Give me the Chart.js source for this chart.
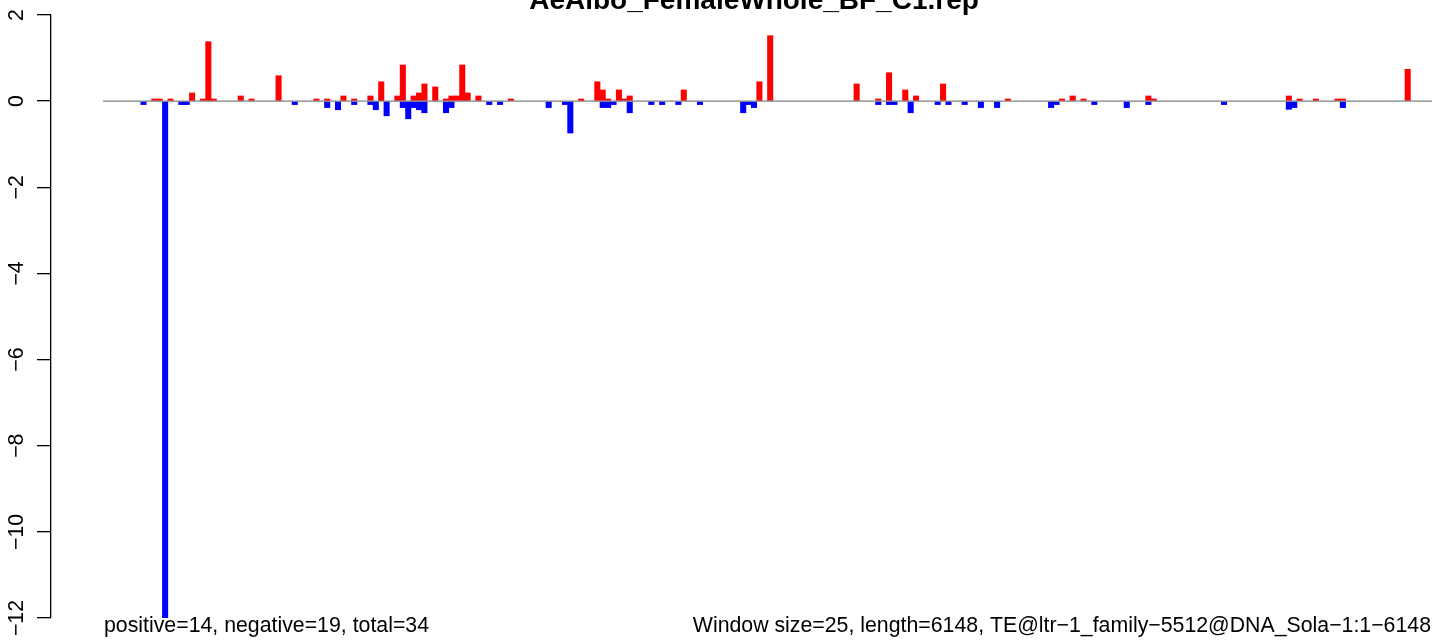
<!DOCTYPE html>
<html>
<head>
<meta charset="utf-8">
<script src="https://cdn.jsdelivr.net/npm/chart.js@4.4.1/dist/chart.umd.min.js"></script>
<style>
  html, body { margin: 0; padding: 0; background: #fff; }
  canvas { display: block; }
</style>
</head>
<body>
<canvas id="repChart" width="1444" height="641"></canvas>
<script>
// 25 bp windows along the 6148 bp element
var nWin = 246;

var posWin = [9, 10, 12, 16, 18, 19, 20, 25, 27, 32, 39, 41, 44, 46, 49, 51, 54, 55, 57, 58, 59,
              61, 63, 64, 65, 66, 67, 69, 75, 88, 91, 92, 93, 95, 96, 97, 107, 121, 123,
              139, 143, 145, 148, 150, 155, 167, 177, 179, 181, 193, 194, 219, 221, 224, 228, 229, 241];
var posVal = [0.05, 0.05, 0.05, 0.19, 0.05, 1.38, 0.05, 0.12, 0.05, 0.59, 0.05, 0.05, 0.12, 0.05, 0.12, 0.45, 0.12, 0.84, 0.12, 0.19, 0.40,
              0.33, 0.05, 0.12, 0.12, 0.84, 0.19, 0.12, 0.05, 0.05, 0.45, 0.26, 0.05, 0.26, 0.05, 0.12, 0.26, 0.45, 1.52,
              0.40, 0.05, 0.66, 0.26, 0.12, 0.40, 0.05, 0.05, 0.12, 0.05, 0.12, 0.05, 0.12, 0.05, 0.05, 0.05, 0.05, 0.74];

var negWin = [7, 11, 14, 15, 35, 41, 43, 46, 49, 50, 52, 55, 56, 57, 58, 59, 63, 64, 71, 73,
              82, 85, 86, 92, 93, 94, 97, 101, 103, 106, 110, 118, 119, 120,
              143, 145, 146, 149, 154, 156, 159, 162, 165, 175, 176, 183, 189, 193, 207, 219, 220, 229];
var negVal = [-0.08, -12, -0.08, -0.08, -0.08, -0.15, -0.20, -0.08, -0.08, -0.20, -0.34, -0.15, -0.41, -0.15, -0.20, -0.27, -0.27, -0.15, -0.08, -0.08,
              -0.15, -0.08, -0.74, -0.15, -0.15, -0.08, -0.27, -0.08, -0.08, -0.08, -0.08, -0.27, -0.08, -0.15,
              -0.08, -0.08, -0.08, -0.27, -0.08, -0.08, -0.08, -0.15, -0.15, -0.15, -0.08, -0.08, -0.15, -0.08, -0.08, -0.19, -0.15, -0.15];

var yTicks = [2, 0, -2, -4, -6, -8, -10, -12];

var titleText = "AeAlbo_FemaleWhole_BF_C1.rep";
var noteLeft = "positive=14, negative=19, total=34";
var noteRight = "Window size=25, length=6148, TE@ltr\u22121_family\u22125512@DNA_Sola\u22121:1\u22126148";

var FONT = '"Liberation Sans", Arial, sans-serif';
var axisX = 51, plotLeft = 103, plotRight = 1432;
// leave room between the y axis line and the first window, like the R plot
var xMin = -nWin * (plotLeft - axisX) / (plotRight - plotLeft);

function toPoints(wins, vals) {
    return wins.map(function (w, i) { return { x: w + 0.5, y: vals[i] }; });
}

function minusLabel(v) {
    return v < 0 ? '\u2212' + Math.abs(v) : String(v);
}

var decor = {
    id: 'decor',
    afterDraw: function (chart) {
        var ctx = chart.ctx;
        var x = chart.scales.x, y = chart.scales.y, area = chart.chartArea;
        ctx.save();
        ctx.fillStyle = '#000';
        ctx.font = '21.3px ' + FONT;
        ctx.textAlign = 'center';
        ctx.textBaseline = 'alphabetic';
        y.ticks.forEach(function (t) {
            ctx.save();
            ctx.translate(23, y.getPixelForValue(t.value));
            ctx.rotate(-Math.PI / 2);
            ctx.fillText(minusLabel(t.value), 0, 0);
            ctx.restore();
        });
        ctx.textAlign = 'left';
        ctx.fillText(noteLeft, x.getPixelForValue(0) + 1, area.bottom + 14);
        ctx.textAlign = 'right';
        ctx.fillText(noteRight, area.right - 1, area.bottom + 14);
        ctx.font = 'bold 28px ' + FONT;
        ctx.textAlign = 'center';
        ctx.fillText(titleText, 754, 9);
        ctx.restore();
    }
};

new Chart(document.getElementById('repChart'), {
    type: 'bar',
    data: {
        datasets: [
            {
                type: 'line',
                data: [{ x: 0, y: 0 }, { x: nWin, y: 0 }],
                borderColor: '#808080',
                borderWidth: 1.3,
                pointRadius: 0,
                order: 0
            },
            { label: 'positive', data: toPoints(posWin, posVal), backgroundColor: '#ff0000', order: 1 },
            { label: 'negative', data: toPoints(negWin, negVal), backgroundColor: '#0000ff', order: 1 }
        ]
    },
    options: {
        responsive: false,
        animation: false,
        layout: { padding: { left: 0, right: 1444 - plotRight, top: 15, bottom: 23 } },
        datasets: {
            bar: { grouped: false, barPercentage: 1, categoryPercentage: 1, borderWidth: 0 }
        },
        scales: {
            x: { type: 'linear', min: xMin, max: nWin, offset: false, display: false },
            y: {
                min: -12,
                max: 2,
                afterFit: function (s) { s.width = axisX; },
                afterBuildTicks: function (s) {
                    s.ticks = yTicks.map(function (v) { return { value: v }; });
                },
                ticks: { display: false },
                grid: { drawOnChartArea: false, drawTicks: true, tickLength: 14, color: '#000', lineWidth: 1.3 },
                border: { display: true, color: '#000', width: 1.3 }
            }
        },
        plugins: { legend: { display: false }, tooltip: { enabled: false } }
    },
    plugins: [decor]
});
</script>
</body>
</html>
